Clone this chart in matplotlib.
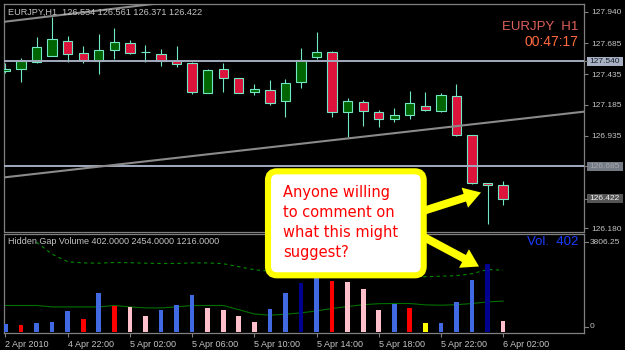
import matplotlib
matplotlib.use("Agg")
import matplotlib.pyplot as plt
from matplotlib.patches import FancyBboxPatch, FancyArrow, Rectangle
import matplotlib.transforms as mtrans
import numpy as np

plt.rcParams['font.family'] = ['Liberation Sans', 'DejaVu Sans']

# ---------------- data ----------------
symbol = "EURJPY"
timeframe = "H1"
timer_text = "00:47:17"

opens = [127.460, 127.474, 127.536, 127.584, 127.704, 127.609, 127.544, 127.631, 127.688, 127.612,
         127.601, 127.539, 127.523, 127.283, 127.474, 127.401, 127.292, 127.308, 127.213, 127.370,
         127.576, 127.615, 127.124, 127.208, 127.124, 127.069, 127.099, 127.173, 127.137, 127.259,
         126.942, 126.546, 126.534]
highs = [127.525, 127.563, 127.737, 127.902, 127.745, 127.666, 127.761, 127.810, 127.712, 127.674,
         127.641, 127.666, 127.533, 127.476, 127.527, 127.403, 127.352, 127.389, 127.395, 127.650,
         127.777, 127.623, 127.238, 127.224, 127.143, 127.156, 127.295, 127.287, 127.279, 127.354,
         126.942, 126.552, 126.561]
lows = [127.444, 127.368, 127.527, 127.580, 127.536, 127.527, 127.438, 127.560, 127.596, 127.533,
        127.503, 127.495, 127.273, 127.281, 127.289, 127.281, 127.265, 127.186, 127.088, 127.319,
        127.560, 127.083, 126.925, 127.015, 127.007, 127.045, 127.067, 127.138, 127.124, 126.931,
        126.538, 126.215, 126.371]
closes = [127.476, 127.539, 127.655, 127.720, 127.601, 127.552, 127.633, 127.696, 127.606, 127.614,
          127.539, 127.514, 127.292, 127.466, 127.401, 127.283, 127.311, 127.197, 127.365, 127.547,
          127.617, 127.124, 127.213, 127.132, 127.069, 127.099, 127.200, 127.140, 127.265, 126.942,
          126.546, 126.534, 126.422]

volumes = [296, 255, 336, 377, 822, 498, 1539, 1025, 984, 620,
           863, 1065, 1458, 944, 863, 620, 389, 903, 1539, 1928,
           2350, 2037, 1997, 1713, 863, 1118, 944, 348, 348, 1187,
           2078, 2685, 402]
vol_colors = ["blue", "red", "blue", "blue", "blue", "red", "blue", "red", "pink", "pink",
              "blue", "blue", "blue", "pink", "pink", "pink", "pink", "blue", "blue", "navy",
              "blue", "red", "pink", "pink", "pink", "blue", "red", "yellow", "blue", "blue",
              "blue", "navy", "pink"]
vol_dashed = [np.nan, np.nan, 3572, 3092, 2792, 2744, 2732, 2760, 2752, 2732,
              2720, 2720, 2744, 2744, 2712, 2592, 2472, 2412, 2372, 2332,
              2292, 2252, 2232, 2212, 2212, 2192, 2192, 2192, 2212, 2232,
              2312, 2480, 2454]
vol_solid = [1040, 1040, 1040, 984, 984, 984, 984, 1040, 984, 944,
             944, 984, 1040, 1040, 1040, 872, 700, 652, 692, 744,
             824, 920, 1000, 1072, 1112, 1120, 1120, 1064, 1052, 1072,
             1120, 1184, 1216]
vol_axis_max = 3806.25

xtick_idx = [0, 4, 8, 12, 16, 20, 24, 28, 32]
xtick_labels = ["2 Apr 2010", "4 Apr 22:00", "5 Apr 02:00", "5 Apr 06:00", "5 Apr 10:00",
                "5 Apr 14:00", "5 Apr 18:00", "5 Apr 22:00", "6 Apr 02:00"]
price_ticks = [127.940, 127.685, 127.435, 127.185, 126.935, 126.180]
hline_levels = [127.540, 126.685]
trend_upper_x = [-0.1, 12.0]
trend_upper_y = [127.860, 128.043]
trend_lower_x = [-0.1, 37.2]
trend_lower_y = [126.594, 127.129]
callout_lines = ["Anyone willing", "to comment on", "what this might", "suggest?"]

# ---------------- styling ----------------
W, H = 625, 350
BG = "black"
GRID = "#808080"
TXT = "#c4c4c4"
WICK = "#72e8c6"
BULL = "#006400"
BEAR = "#dc143c"
VCOL = {"blue": "#4169e1", "red": "#ff0000", "pink": "#ffc0cb", "navy": "#000090", "yellow": "#ffff00"}

fig = plt.figure(figsize=(W / 100, H / 100), dpi=100, facecolor=BG)


def box(l, t, r, b):
    return [l / W, 1 - b / H, (r - l) / W, (b - t) / H]


ax = fig.add_axes(box(4, 4, 584, 231.5))
axv = fig.add_axes(box(4, 234, 584, 333))
for a in (ax, axv):
    a.set_facecolor(BG)
    for s in a.spines.values():
        s.set_color(GRID)
        s.set_linewidth(0.9)

n = len(opens)
x = np.arange(n)
o = np.array(opens); c = np.array(closes)
XL = (-0.096, 37.2)

# ---- main price panel ----
ax.vlines(x, lows, highs, color=WICK, lw=0.8, zorder=2)
bottoms = np.minimum(o, c)
heights = np.maximum(np.abs(c - o), 0.0005)
body_cols = [BULL if cc >= oo else BEAR for oo, cc in zip(o, c)]
ax.bar(x, heights, bottom=bottoms, width=0.6, color=body_cols, edgecolor=WICK,
       linewidth=0.8, zorder=3)
for lv in hline_levels:
    ax.axhline(lv, color="#a3abbf", lw=1.4, zorder=4)
ax.plot(trend_upper_x, trend_upper_y, color="#8a8a8a", lw=1.5, zorder=4)
ax.plot(trend_lower_x, trend_lower_y, color="#8a8a8a", lw=1.5, zorder=4)
ax.set_xlim(*XL)
ax.set_ylim(126.154, 128.005)
ax.set_xticks([])
ax.yaxis.tick_right()
ax.set_yticks(price_ticks)
ax.set_yticklabels([f"{v:.3f}" for v in price_ticks])
ax.tick_params(axis="y", colors=GRID, labelcolor=TXT, length=3, width=0.8, labelsize=6, pad=2)

# ---- volume panel ----
axv.plot(x, vol_solid, color="#007000", lw=0.8, zorder=2)
axv.plot(x, vol_dashed, color="#008a00", lw=0.8, ls=(0, (3, 3)), zorder=2)
axv.bar(x, volumes, width=0.3, color=[VCOL[k] for k in vol_colors], zorder=3)
axv.set_xlim(*XL)
axv.set_ylim(-60, 3900)
axv.set_yticks([])
axv.set_xticks(xtick_idx)
axv.set_xticklabels(xtick_labels, ha="left")
axv.tick_params(axis="x", colors=GRID, labelcolor=TXT, length=3, width=0.8, labelsize=6.5, pad=2)
for lab in axv.get_xticklabels():
    lab.set_x(lab.get_position()[0])

# ---- overlay in pixel coords ----
ov = fig.add_axes([0, 0, 1, 1], zorder=10)
ov.set_xlim(0, W)
ov.set_ylim(H, 0)
ov.axis("off")
ov.patch.set_alpha(0)


def py(axis, val):
    return H - axis.transData.transform((0, val))[1]


# headers
ov.text(8, 12.5, f"{symbol},{timeframe}  {opens[-1]:.3f} {highs[-1]:.3f} {lows[-1]:.3f} {closes[-1]:.3f}",
        color=TXT, fontsize=6.6, va="center", ha="left")
ov.text(578, 27, f"{symbol}  {timeframe}", color="#e0605a", fontsize=9.5, va="center", ha="right")
ov.text(578, 42.5, timer_text, color="#ff6a40", fontsize=10, va="center", ha="right")
ov.text(8, 242, f"Hidden Gap Volume {volumes[-1]:.4f} {vol_dashed[-1]:.4f} {vol_solid[-1]:.4f}",
        color=TXT, fontsize=6.5, va="center", ha="left")
ov.text(578, 242, f"Vol.  {volumes[-1]}", color="#1a3cff", fontsize=9.5, va="center", ha="right")

# highlighted price labels
hl_styles = [(hline_levels[0], "#a9b2c4", "#18202e"),
             (hline_levels[1], "#747a84", "#a4a8ae"),
             (closes[-1], "#555555", "#f2f2f2")]
for val, fc, tc in hl_styles:
    yy = py(ax, val)
    ov.add_patch(Rectangle((587, yy - 4.6), 36, 9.2, facecolor=fc, edgecolor="none"))
    ov.plot([584.5, 587], [yy, yy], color=GRID, lw=0.8)
    ov.text(589.5, yy, f"{val:.3f}", color=tc, fontsize=6, va="center", ha="left")

# volume scale labels
ov.text(590, 242, f"{vol_axis_max:.2f}", color=TXT, fontsize=6, va="center", ha="left")
ov.plot([584.5, 587.5], [242, 242], color=GRID, lw=0.8)
ov.text(590, 326.7, "0", color=TXT, fontsize=6, va="center", ha="left")
ov.plot([584.5, 587.5], [326.7, 326.7], color=GRID, lw=0.8)

# callout arrows
ov.add_patch(FancyArrow(420, 212, 61, -19.5, width=8, head_width=21, head_length=17,
                        length_includes_head=True, color="#ffff00", lw=0))
ov.add_patch(FancyArrow(420, 235, 59, 31.5, width=8, head_width=21, head_length=17,
                        length_includes_head=True, color="#ffff00", lw=0))
# callout box
ov.add_patch(FancyBboxPatch((268, 171.3), 155.7, 104, boxstyle="round,pad=0,rounding_size=9",
                            facecolor="white", edgecolor="#ffff00", linewidth=4.4))
for k, line in enumerate(callout_lines):
    ov.text(283, 196.7 + 20 * k, line, color="#ff0000", fontsize=10.5, family="DejaVu Sans",
            va="baseline", ha="left")

fig.savefig("out.png", dpi=100, facecolor=BG)
